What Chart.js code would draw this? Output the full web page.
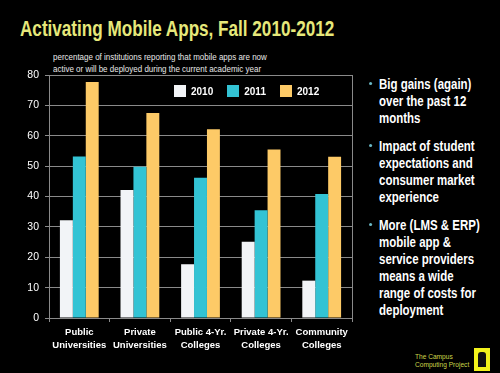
<!DOCTYPE html>
<html>
<head>
<meta charset="utf-8">
<script src="https://cdn.jsdelivr.net/npm/chart.js@4.4.1/dist/chart.umd.min.js"></script>
<style>
  html, body { margin: 0; padding: 0; background: #000; }
  body { width: 500px; height: 373px; position: relative; overflow: hidden;
         font-family: "Liberation Sans", Arial, sans-serif; color: #fff; }
  #title { position: absolute; left: 20px; top: 16px; font-size: 22px; font-weight: bold; color: #e6e87a; white-space: nowrap;
           transform: scaleX(0.778); transform-origin: left top; }
  #sub { position: absolute; left: 53px; top: 51px; font-size: 9.5px; line-height: 12px; color: #e8e8e8; white-space: nowrap;
         transform: scaleX(0.84); transform-origin: left top; }
  #wrap { position: absolute; left: 0; top: 0; width: 360px; height: 373px; }
  #legend { position: absolute; left: 174px; top: 85px; display: flex; gap: 14px; font-size: 10px; font-weight: bold; }
  #legend span.item { display: flex; align-items: center; gap: 5px; }
  #legend span.box { width: 12px; height: 12px; display: inline-block; }
  #bullets { position: absolute; left: 379px; top: 75px; margin: 0; padding: 0; list-style: none;
             font-size: 15px; font-weight: bold; line-height: 17px; white-space: nowrap;
             transform: scaleX(0.765); transform-origin: left top; }
  #bullets li { position: relative; margin-bottom: 11px; }
  #bullets li::before { content: ""; position: absolute; left: -13px; top: 7px; width: 4px; height: 3px; background: #6ab8c4; border-radius: 50%; }
  #logo { position: absolute; left: 415px; top: 353px; font-size: 6.6px; line-height: 8px; color: #ccd64a; white-space: nowrap; }
  #icon { position: absolute; left: 474px; top: 348px; width: 16px; height: 23px; background: #f2f21c; }
  #icon div { position: absolute; left: 4px; top: 4px; width: 8px; height: 15px; background: #111; border-radius: 3px 3px 0 0; }
</style>
</head>
<body>
<div id="title">Activating Mobile Apps, Fall 2010-2012</div>
<div id="sub">percentage of institutions reporting that mobile apps are now<br>active or will be deployed during the current academic year</div>
<div id="wrap"><canvas id="chart"></canvas></div>
<div id="legend"></div>
<ul id="bullets">
  <li>Big gains (again)<br>over the past 12<br>months</li>
  <li>Impact of student<br>expectations and<br>consumer market<br>experience</li>
  <li>More (LMS &amp; ERP)<br>mobile app &amp;<br>service providers<br>means a wide<br>range of costs for<br>deployment</li>
</ul>
<div id="logo">The Campus<br>Computing Project</div>
<div id="icon"><div></div></div>
<script>
const categories = [
  ['Public', 'Universities'],
  ['Private', 'Universities'],
  ['Public 4-Yr.', 'Colleges'],
  ['Private 4-Yr.', 'Colleges'],
  ['Community', 'Colleges']
];
const years = ['2010', '2011', '2012'];
const values2010 = [32.2, 42.1, 17.7, 25.1, 12.3];
const values2011 = [53.2, 49.8, 46.2, 35.5, 40.8];
const values2012 = [77.7, 67.5, 62.1, 55.5, 53.1];
const colors = ['#f2f4f7', '#33c3d4', '#fdca67'];

const FONT = '"Liberation Sans", Arial, sans-serif';

// legend (built from the series)
const legend = document.getElementById('legend');
years.forEach((y, i) => {
  legend.innerHTML += `<span class="item"><span class="box" style="background:${colors[i]}"></span>${y}</span>`;
});

// box around the plot area
const frame = {
  id: 'frame',
  afterDraw(chart) {
    const a = chart.chartArea, ctx = chart.ctx;
    ctx.save();
    ctx.strokeStyle = '#8a8a8a';
    ctx.lineWidth = 1;
    ctx.strokeRect(Math.round(a.left) + 0.5, Math.round(a.top) + 0.5, Math.round(a.right - a.left), Math.round(a.bottom - a.top));
    ctx.restore();
  }
};

new Chart(document.getElementById('chart'), {
  type: 'bar',
  data: {
    labels: categories,
    datasets: [values2010, values2011, values2012].map((d, i) => ({
      label: years[i],
      data: d,
      backgroundColor: colors[i],
      borderWidth: 0,
      barPercentage: 1.0,
      categoryPercentage: 0.64
    }))
  },
  options: {
    responsive: true,
    maintainAspectRatio: false,
    animation: false,
    layout: { padding: { left: 0, right: 8, top: 75, bottom: 0 } },
    scales: {
      x: {
        grid: { drawOnChartArea: false, drawTicks: true, tickLength: 4, color: '#8a8a8a' },
        border: { color: '#8a8a8a' },
        ticks: { color: '#ffffff', font: { family: FONT, size: 9.5, weight: 'bold', lineHeight: 1.45 }, padding: 3, maxRotation: 0, autoSkip: false },
        afterFit: s => { s.height = 55; }
      },
      y: {
        min: 0, max: 80,
        ticks: { stepSize: 10, color: '#ffffff', font: { family: FONT, size: 10.5 }, padding: 6 },
        grid: { color: '#8a8a8a', tickLength: 4 },
        border: { color: '#8a8a8a' },
        afterFit: s => { s.width = 49; }
      }
    },
    plugins: {
      legend: { display: false },
      tooltip: { enabled: false }
    }
  },
  plugins: [frame]
});
</script>
</body>
</html>
